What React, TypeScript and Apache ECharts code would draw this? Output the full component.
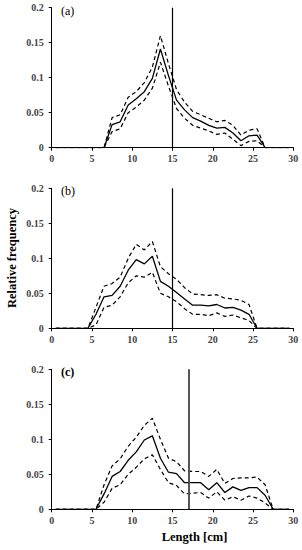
import React, { useEffect, useRef } from "react";
import * as echarts from "echarts";

const lengths = [0.5, 1.5, 2.5, 3.5, 4.5, 5.5, 6.5, 7.5, 8.5, 9.5, 10.5, 11.5, 12.5, 13.5, 14.5, 15.5, 16.5, 17.5, 18.5, 19.5, 20.5, 21.5, 22.5, 23.5, 24.5, 25.5, 26.5, 27.5, 28.5, 29.5];

const aMean = [0, 0, 0, 0, 0, 0, 0, 0.033, 0.037, 0.061, 0.070, 0.080, 0.099, 0.141, 0.103, 0.068, 0.054, 0.043, 0.038, 0.032, 0.028, 0.029, 0.021, 0.010, 0.017, 0.018, 0, 0, 0, 0];
const aUpper = [0, 0, 0, 0, 0, 0, 0, 0.043, 0.047, 0.072, 0.080, 0.093, 0.115, 0.160, 0.120, 0.083, 0.065, 0.052, 0.047, 0.042, 0.037, 0.039, 0.032, 0.018, 0.025, 0.027, 0, 0, 0, 0];
const aLower = [0, 0, 0, 0, 0, 0, 0, 0.023, 0.027, 0.050, 0.058, 0.068, 0.085, 0.122, 0.088, 0.056, 0.042, 0.032, 0.028, 0.024, 0.019, 0.021, 0.012, 0.003, 0.009, 0.010, 0, 0, 0, 0];

const bMean = [0, 0, 0, 0, 0, 0.020, 0.045, 0.047, 0.060, 0.083, 0.098, 0.092, 0.103, 0.067, 0.060, 0.051, 0.042, 0.033, 0.033, 0.032, 0.034, 0.029, 0.030, 0.026, 0.020, 0, 0, 0, 0, 0];
const bUpper = [0, 0, 0, 0, 0, 0.030, 0.060, 0.064, 0.073, 0.100, 0.120, 0.112, 0.124, 0.088, 0.078, 0.070, 0.058, 0.049, 0.048, 0.047, 0.048, 0.043, 0.042, 0.040, 0.034, 0, 0, 0, 0, 0];
const bLower = [0, 0, 0, 0, 0, 0.005, 0.030, 0.033, 0.045, 0.065, 0.075, 0.073, 0.080, 0.050, 0.045, 0.038, 0.028, 0.020, 0.020, 0.018, 0.022, 0.017, 0.019, 0.015, 0.011, 0, 0, 0, 0, 0];

const cMean = [0, 0, 0, 0, 0, 0, 0.022, 0.047, 0.054, 0.070, 0.082, 0.099, 0.105, 0.073, 0.053, 0.051, 0.038, 0.038, 0.038, 0.028, 0.038, 0.024, 0.032, 0.027, 0.031, 0.031, 0.020, 0, 0, 0];
const cUpper = [0, 0, 0, 0, 0, 0, 0.035, 0.062, 0.072, 0.090, 0.103, 0.120, 0.130, 0.100, 0.073, 0.068, 0.055, 0.054, 0.054, 0.047, 0.057, 0.037, 0.044, 0.045, 0.045, 0.046, 0.035, 0, 0, 0];
const cLower = [0, 0, 0, 0, 0, 0, 0.010, 0.030, 0.035, 0.050, 0.060, 0.072, 0.078, 0.057, 0.038, 0.034, 0.022, 0.023, 0.024, 0.016, 0.025, 0.013, 0.018, 0.013, 0.019, 0.016, 0.009, 0, 0, 0];

const panelLabels = ["(a)", "(b)", "(c)"];
const cutoffs = [15, 15, 17];
const yLabel = "Relative frequency";
const xLabel = "Length [cm]";

const panels = [
  { mean: aMean, upper: aUpper, lower: aLower },
  { mean: bMean, upper: bUpper, lower: bLower },
  { mean: cMean, upper: cUpper, lower: cLower },
];

const SERIF = "'Liberation Serif', 'Times New Roman', serif";

export default function App() {
  const ref = useRef<HTMLDivElement>(null);
  useEffect(() => {
    if (!ref.current) return;
    const chart = echarts.init(ref.current, null, { renderer: "svg" });
    const tops = [7.7, 188.3, 369.3];
    const grids = tops.map((t) => ({ left: 51.7, width: 241.6, top: t, height: 140 }));
    const xAxes = tops.map((_, i) => ({
      type: "value",
      gridIndex: i,
      min: 0,
      max: 30,
      interval: 5,
      splitLine: { show: false },
      axisLine: { show: true, lineStyle: { color: "#000", width: 1 } },
      axisTick: { show: true, length: 3, lineStyle: { color: "#000" } },
      axisLabel: { fontFamily: SERIF, fontWeight: "bold", fontSize: 10, color: "#444", margin: 6 },
    }));
    const yAxes = tops.map((_, i) => ({
      type: "value",
      gridIndex: i,
      min: 0,
      max: 0.2,
      interval: 0.05,
      splitLine: { show: false },
      axisLine: { show: true, lineStyle: { color: "#000", width: 1 } },
      axisTick: { show: true, length: 3, lineStyle: { color: "#000" } },
      axisLabel: { fontFamily: SERIF, fontWeight: "bold", fontSize: 10, color: "#444", margin: 8 },
    }));
    const series: any[] = [];
    panels.forEach((p, i) => {
      const mk = (arr: number[]) => arr.map((v, k) => [lengths[k], v]);
      series.push({
        type: "line",
        xAxisIndex: i,
        yAxisIndex: i,
        data: mk(p.mean),
        symbol: "none",
        lineStyle: { color: "#000", width: 1.3 },
        z: 3,
        markLine: {
          silent: true,
          symbol: "none",
          label: { show: false },
          lineStyle: { color: i === 2 ? "#444" : "#000", width: i === 2 ? 1.8 : 1.2, type: "solid" },
          data: [{ xAxis: cutoffs[i] }],
        },
      });
      series.push({
        type: "line",
        xAxisIndex: i,
        yAxisIndex: i,
        data: mk(p.upper),
        symbol: "none",
        lineStyle: { color: "#000", width: 1.2, type: [4, 3] },
      });
      series.push({
        type: "line",
        xAxisIndex: i,
        yAxisIndex: i,
        data: mk(p.lower),
        symbol: "none",
        lineStyle: { color: "#000", width: 1.2, type: [4, 3] },
      });
    });
    const graphic: any[] = tops.map((t, i) => ({
      type: "text",
      left: 61,
      top: t - 3,
      style: { text: panelLabels[i], font: `${i === 2 ? "bold " : ""}12px ${SERIF}`, fill: "#000" },
    }));
    graphic.push({
      type: "text",
      x: 12,
      y: 258,
      rotation: Math.PI / 2,
      style: {
        text: yLabel,
        font: `bold 12.5px ${SERIF}`,
        fill: "#000",
        align: "center",
        verticalAlign: "middle",
      },
    });
    graphic.push({
      type: "text",
      x: 194.5,
      y: 537,
      style: {
        text: xLabel,
        font: `bold 12.5px ${SERIF}`,
        fill: "#000",
        align: "center",
        verticalAlign: "middle",
      },
    });
    chart.setOption({
      animation: false,
      backgroundColor: "#fff",
      grid: grids,
      xAxis: xAxes,
      yAxis: yAxes,
      series,
      graphic,
    });
    return () => chart.dispose();
  }, []);
  return <div ref={ref} style={{ position: "fixed", left: 0, top: 0, width: 302, height: 550 }} />;
}
